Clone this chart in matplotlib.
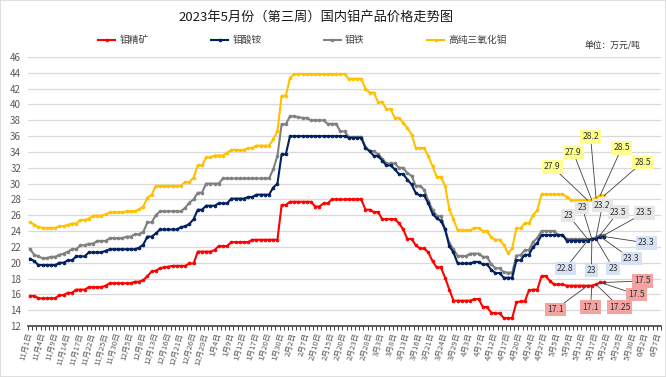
import matplotlib
matplotlib.use('Agg')
import matplotlib.pyplot as plt
from matplotlib.patches import Rectangle
import numpy as np

plt.rcParams['font.family'] = ['Noto Sans CJK SC', 'DejaVu Sans']

title = '2023年5月份（第三周）国内钼产品价格走势图'
unit_text = '单位：万元/吨'

tick_labels = ['11月1日', '11月4日', '11月9日', '11月14日', '11月17日', '11月22日', '11月25日', '11月30日',
               '12月5日', '12月8日', '12月13日', '12月16日', '12月21日', '12月26日', '12月29日',
               '1月4日', '1月9日', '1月12日', '1月17日', '1月20日', '1月30日',
               '2月2日', '2月7日', '2月10日', '2月15日', '2月20日', '2月23日', '2月28日',
               '3月3日', '3月8日', '3月13日', '3月16日', '3月21日', '3月24日', '3月29日',
               '4月3日', '4月7日', '4月12日', '4月17日', '4月20日', '4月24日', '4月27日',
               '5月5日', '5月9日', '5月12日', '5月17日', '5月22日', '5月25日', '5月30日',
               '6月2日', '6月7日']
label_step = 3  # one label every 3 trading days

names = ['钼精矿', '钼酸铵', '钼铁', '高纯三氧化钼']

moly_concentrate = [
    15.8, 15.8, 15.5, 15.5, 15.5, 15.5, 15.5, 15.9, 15.9, 16.2,
    16.2, 16.6, 16.6, 16.6, 16.9, 16.9, 16.9, 16.9, 17.1, 17.4,
    17.4, 17.4, 17.4, 17.4, 17.4, 17.6, 17.6, 17.8, 18.3, 18.9,
    19.0, 19.3, 19.4, 19.5, 19.6, 19.6, 19.6, 19.6, 19.9, 19.9,
    21.4, 21.4, 21.4, 21.4, 21.6, 22.1, 22.1, 22.1, 22.6, 22.6,
    22.6, 22.6, 22.6, 22.9, 22.9, 22.9, 22.9, 22.9, 22.9, 22.9,
    27.3, 27.3, 27.7, 27.7, 27.7, 27.7, 27.7, 27.7, 27.1, 27.1,
    27.5, 27.5, 28.0, 28.0, 28.0, 28.0, 28.0, 28.0, 28.0, 28.0,
    26.7, 26.7, 26.4, 26.4, 25.5, 25.5, 25.5, 25.5, 25.0, 24.2,
    23.0, 23.0, 22.2, 21.8, 21.8, 21.3, 20.2, 19.4, 19.4, 18.1,
    16.6, 15.2, 15.2, 15.2, 15.2, 15.2, 15.4, 15.4, 14.4, 14.4,
    13.7, 13.6, 13.6, 13.0, 13.0, 13.0, 15.0, 15.1, 15.1, 16.5,
    16.6, 16.6, 18.3, 18.3, 17.7, 17.25, 17.25, 17.25, 17.1, 17.1,
    17.1, 17.1, 17.1, 17.1, 17.1, 17.25, 17.5, 17.5]

ammonium_molybdate = [
    20.5, 20.2, 19.7, 19.7, 19.7, 19.7, 19.7, 20.0, 20.0, 20.3,
    20.3, 20.8, 20.8, 20.8, 21.3, 21.3, 21.3, 21.3, 21.5, 21.7,
    21.7, 21.7, 21.7, 21.7, 21.7, 21.7, 21.9, 22.3, 23.3, 23.3,
    23.7, 24.2, 24.2, 24.2, 24.2, 24.2, 24.5, 24.6, 24.9, 25.5,
    26.7, 26.7, 27.2, 27.2, 27.2, 27.5, 27.5, 27.5, 28.1, 28.1,
    28.1, 28.1, 28.3, 28.3, 28.6, 28.6, 28.6, 28.6, 29.5, 30.0,
    33.7, 33.7, 36.0, 36.0, 36.0, 36.0, 36.0, 36.0, 36.0, 36.0,
    36.0, 36.0, 36.0, 36.0, 36.0, 36.0, 35.8, 35.8, 35.8, 35.8,
    34.5, 34.1, 33.5, 33.5, 32.9, 32.3, 32.3, 31.8, 31.2, 31.2,
    30.5, 29.9, 28.8, 28.5, 28.5, 27.5, 26.2, 25.6, 25.3, 24.2,
    22.1, 21.3, 19.9, 19.9, 19.9, 19.9, 20.1, 20.1, 19.8, 19.8,
    19.1, 18.7, 18.7, 18.1, 18.1, 18.1, 20.3, 20.3, 21.0, 21.0,
    22.0, 22.5, 23.5, 23.5, 23.5, 23.5, 23.5, 23.5, 22.8, 22.8,
    22.8, 22.8, 22.8, 22.8, 23.0, 23.0, 23.3, 23.3]

ferro_molybdenum = [
    21.7, 21.0, 20.8, 20.55, 20.6, 20.75, 20.75, 21.0, 21.15, 21.4,
    21.7, 21.7, 22.2, 22.2, 22.4, 22.4, 22.75, 22.75, 22.75, 23.1,
    23.1, 23.1, 23.1, 23.3, 23.3, 23.6, 23.6, 23.9, 25.1, 25.1,
    26.0, 26.5, 26.5, 26.5, 26.5, 26.5, 26.5, 26.95, 27.6, 28.0,
    28.85, 28.85, 30.0, 30.0, 30.0, 30.0, 30.65, 30.65, 30.65, 30.65,
    30.65, 30.65, 30.65, 30.65, 30.65, 30.65, 30.65, 30.65, 31.8, 33.5,
    37.5, 37.5, 38.5, 38.5, 38.4, 38.3, 38.3, 38.0, 38.0, 38.0,
    38.0, 37.55, 37.55, 37.55, 36.6, 36.6, 35.9, 35.9, 35.9, 35.9,
    34.65, 34.1, 34.1, 33.7, 33.15, 32.55, 32.55, 32.55, 32.0, 32.0,
    31.3, 31.0, 29.7, 29.7, 29.25, 27.8, 26.7, 25.9, 25.9, 24.2,
    22.5, 21.7, 20.85, 20.85, 20.85, 21.15, 21.15, 21.15, 20.75, 20.75,
    19.8, 19.3, 19.3, 18.8, 18.75, 18.75, 20.9, 20.95, 21.6, 21.6,
    22.65, 23.1, 24.0, 24.0, 24.0, 24.0, 23.5, 23.5, 23.0, 23.0,
    23.0, 23.0, 23.0, 23.0, 23.0, 23.2, 23.5, 23.5]

moly_trioxide = [
    25.1, 24.8, 24.5, 24.4, 24.4, 24.4, 24.4, 24.6, 24.6, 24.8,
    24.95, 24.95, 25.4, 25.4, 25.55, 25.95, 25.95, 25.95, 26.1, 26.35,
    26.35, 26.35, 26.35, 26.5, 26.5, 26.5, 26.75, 27.1, 28.2, 28.6,
    29.7, 29.7, 29.7, 29.7, 29.7, 29.7, 29.75, 30.2, 30.2, 30.75,
    32.3, 32.3, 33.3, 33.3, 33.55, 33.55, 33.55, 33.9, 34.25, 34.25,
    34.25, 34.25, 34.5, 34.5, 34.8, 34.8, 34.8, 34.8, 35.6, 36.6,
    41.1, 41.1, 43.35, 43.85, 43.85, 43.85, 43.85, 43.85, 43.85, 43.85,
    43.85, 43.85, 43.85, 43.85, 43.85, 43.85, 43.25, 43.25, 43.25, 43.25,
    42.0, 41.5, 41.5, 40.3, 40.3, 39.4, 39.4, 38.3, 38.3, 37.7,
    37.05, 36.2, 34.5, 34.5, 34.5, 33.45, 32.2, 30.85, 30.85, 29.7,
    26.75, 25.5, 24.1, 24.1, 24.1, 24.1, 24.4, 24.4, 24.0, 24.0,
    23.2, 22.9, 22.9, 22.25, 21.2, 21.8, 24.35, 24.35, 25.0, 25.0,
    26.0, 26.65, 28.65, 28.65, 28.65, 28.65, 28.65, 28.65, 28.35, 27.9,
    27.9, 27.9, 27.9, 27.9, 27.9, 28.2, 28.5, 28.5]

series = [moly_concentrate, ammonium_molybdate, ferro_molybdenum, moly_trioxide]
colors = ['#FF0000', '#002060', '#808080', '#FFC000']
box_colors = ['#F4A3A3', '#D6E2F3', '#E7E6E6', '#FFFF8F']
n_labeled = 5  # last week's points carry value labels

# label box positions (data coords) for the last five points of each series
label_pos = [
    [(125.3, 14.1), (133.7, 14.4), (140.6, 14.4), (144.6, 16.0), (146.1, 17.7)],
    [(127.7, 19.3), (133.9, 19.0), (139.1, 19.3), (143.4, 20.5), (147.0, 22.5)],
    [(128.4, 26.0), (131.7, 27.0), (136.5, 27.2), (140.3, 26.4), (146.5, 26.3)],
    [(124.6, 32.1), (129.6, 33.9), (133.7, 35.9), (141.1, 34.5), (146.1, 32.7)],
]

W, H = 666, 377
fig = plt.figure(figsize=(W / 100, H / 100), dpi=100)
fig.patches.append(Rectangle((0, 0), 1, 1, transform=fig.transFigure, fill=False,
                             edgecolor='#D9D9D9', lw=1.2))

ax = fig.add_axes([28 / W, 1 - 326 / H, 633 / W, 269 / H])
n_cat = label_step * (len(tick_labels) - 1) + 1

for k in [3, 2, 1, 0]:
    vals = series[k]
    x = np.arange(len(vals))
    ax.plot(x, vals, color=colors[k], lw=1.5, marker='o', ms=2.0,
            mew=0.6, label=names[k], zorder=3 + (3 - k))

for k, vals in enumerate(series):
    n = len(vals)
    for j in range(n_labeled):
        idx = n - n_labeled + j
        v = vals[idx]
        tx, ty = label_pos[k][j]
        ax.annotate(f'{v:g}', xy=(idx, v), xytext=(tx, ty), textcoords='data',
                    fontsize=6.2, color='#333333', ha='center', va='center',
                    bbox=dict(boxstyle='square,pad=0.25', fc=box_colors[k], ec='none'),
                    arrowprops=dict(arrowstyle='-', color='#404040', lw=0.6,
                                    shrinkA=0, shrinkB=0),
                    zorder=10, annotation_clip=False)

ax.set_xlim(-0.5, n_cat - 0.5)
ax.set_ylim(12, 46)
ax.set_yticks(np.arange(12, 47, 2))
ax.yaxis.grid(True, color='#D9D9D9', lw=0.9)
ax.set_axisbelow(True)
for s in ['top', 'right', 'left']:
    ax.spines[s].set_visible(False)
ax.spines['bottom'].set_color('#404040')
ax.spines['bottom'].set_linewidth(1.2)
ax.spines['bottom'].set_zorder(2)

ax.tick_params(axis='y', length=0, labelsize=7, colors='#595959', pad=5)
ax.set_xticks(np.arange(0, n_cat, label_step))
ax.set_xticklabels(tick_labels, rotation=75, rotation_mode='anchor',
                   ha='right', va='center', fontsize=5.6, color='#595959')
ax.tick_params(axis='x', which='major', length=0, pad=5)
ax.set_xticks(np.arange(-0.5, n_cat, 1), minor=True)
ax.tick_params(axis='x', which='minor', length=3, width=0.7, color='#404040', direction='out')

fig.text(316 / W, 1 - 17 / H, title, ha='center', va='center', fontsize=9.5, color='#1a1a1a')
fig.text(612 / W, 1 - 46 / H, unit_text, ha='center', va='center', fontsize=6.3, color='#333333')

handles, labels = ax.get_legend_handles_labels()
hmap = dict(zip(labels, handles))
fig.legend([hmap[nm] for nm in names], names, loc='center left',
           bbox_to_anchor=(98 / W, 1 - 40 / H), ncol=4, frameon=False,
           fontsize=7, handlelength=1.8, handletextpad=0.4, columnspacing=6.4,
           borderpad=0, borderaxespad=0, labelcolor='#404040')

fig.savefig('out.png', dpi=100)
